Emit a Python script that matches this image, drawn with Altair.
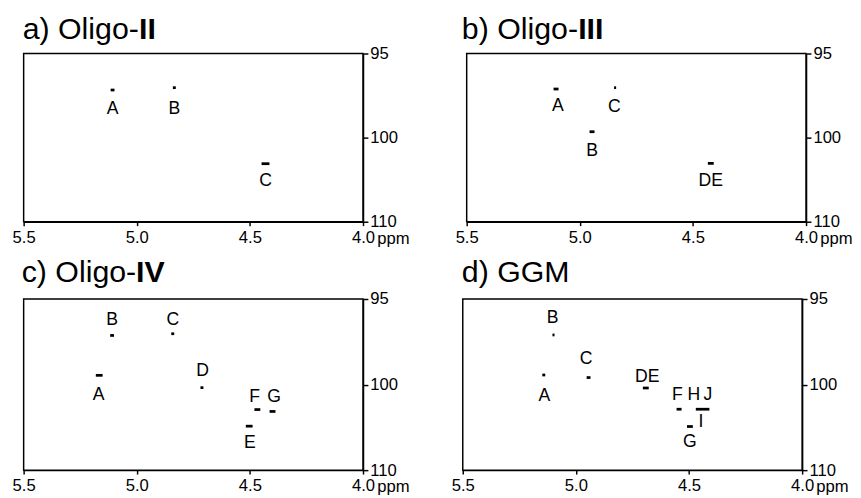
import altair as alt
import pandas as pd

# ---------------- data ----------------
# panel titles (normal part, bold part)
panel_keys = ["a", "b", "c", "d"]
title_plain = ["a) Oligo-", "b) Oligo-", "c) Oligo-", "d) GGM"]
title_bold = ["II", "III", "IV", ""]

# x ticks (ppm) and y ticks (13C ppm, as printed)
x_ticks = [5.5, 5.0, 4.5, 4.0]
y_ticks = [95, 100, 105]
y_tick_labels = ["95", "100", "110"]

# cross peaks: panel, 1H ppm, 13C position, peak extent along 1H (ppm)
peak_panel = ["a", "a", "a",
              "b", "b", "b", "b",
              "c", "c", "c", "c", "c", "c", "c",
              "d", "d", "d", "d", "d", "d", "d"]
peak_h = [5.107, 4.834, 4.431,
          5.105, 4.844, 4.946, 4.421,
          5.109, 4.841, 5.166, 4.712, 4.467, 4.400, 4.503,
          5.099, 5.142, 4.944, 4.691, 4.544, 4.440, 4.496]
peak_c = [97.17, 97.03, 101.55,
          97.11, 97.03, 99.65, 101.53,
          97.13, 97.03, 99.46, 100.18, 101.46, 101.57, 102.43,
          97.10, 99.44, 99.59, 100.20, 101.44, 101.44, 102.45]
peak_w = [0.017, 0.013, 0.035,
          0.022, 0.009, 0.022, 0.026,
          0.017, 0.013, 0.030, 0.013, 0.026, 0.026, 0.030,
          0.009, 0.013, 0.017, 0.026, 0.022, 0.060, 0.026]

# peak labels: panel, text, 1H ppm, 13C position
label_panel = ["a", "a", "a",
               "b", "b", "b", "b",
               "c", "c", "c", "c", "c", "c", "c",
               "d", "d", "d", "d", "d", "d", "d", "d", "d"]
label_text = ["A", "B", "C",
              "A", "C", "B", "DE",
              "B", "C", "A", "D", "F", "G", "E",
              "B", "A", "C", "DE", "F", "H", "J", "I", "G"]
label_h = [5.107, 4.834, 4.431,
           5.097, 4.847, 4.946, 4.421,
           5.109, 4.841, 5.169, 4.709, 4.479, 4.393, 4.500,
           5.103, 5.139, 4.955, 4.685, 4.551, 4.479, 4.417, 4.447, 4.496]
label_c = [98.30, 98.30, 102.56,
           98.10, 98.20, 100.80, 102.56,
           96.22, 96.22, 100.60, 99.19, 100.71, 100.71, 103.42,
           96.11, 100.70, 98.54, 99.59, 100.64, 100.64, 100.64, 102.17, 103.37]

peaks = pd.DataFrame({"panel": peak_panel, "h": peak_h, "c": peak_c, "w": peak_w})
labels = pd.DataFrame({"panel": label_panel, "txt": label_text, "h": label_h, "c": label_c})

FONT = "Liberation Sans"
W = 347
H_ROW = [172, 175]
TITLE_DX = [-1, -5, -2, -1]
TITLE_DY = [-15, -15, -17, -17]
TITLE_FS = 31
BOLD_DX = [119, 119, 117, 0]

ylab_expr = " : ".join(
    [f"datum.value == {v} ? '{t}'" for v, t in zip(y_ticks, y_tick_labels)]
) + " : datum.label"


def panel(i, height):
    key = panel_keys[i]
    xs = alt.Scale(domain=[5.5, 4.0], nice=False, zero=False)
    ys = alt.Scale(domain=[95, 105], reverse=True, nice=False, zero=False)
    xaxis = alt.Axis(values=x_ticks, format=".1f", tickSize=4, labelPadding=4,
                     grid=False, title="ppm", titleX=W + 14, titleY=22,
                     titleAlign="left", titleBaseline="alphabetic",
                     titleFontWeight="normal", titleFontSize=17, titleFont=FONT,
                     labelFlush=False)
    yaxis = alt.Axis(orient="right", values=y_ticks, labelExpr=ylab_expr,
                     tickSize=5, labelPadding=2, grid=False, title=None,
                     labelBaseline="middle", labelFlush=False)

    pk = alt.Chart(peaks[peaks.panel == key]).transform_calculate(
        xa="datum.h + datum.w/2", xb="datum.h - datum.w/2"
    ).mark_rule(color="black", strokeWidth=2.8).encode(
        x=alt.X("xa:Q", scale=xs, axis=xaxis),
        x2="xb:Q",
        y=alt.Y("c:Q", scale=ys, axis=yaxis),
    )
    lb = alt.Chart(labels[labels.panel == key]).transform_calculate(
        xa="datum.h"
    ).mark_text(
        font=FONT, fontSize=18, color="black", baseline="middle", align="center"
    ).encode(
        x=alt.X("xa:Q", scale=xs, axis=xaxis),
        y=alt.Y("c:Q", scale=ys, axis=yaxis),
        text="txt:N",
    )
    t1 = alt.Chart(pd.DataFrame({"t": [title_plain[i]]})).mark_text(
        font=FONT, fontSize=TITLE_FS, color="black", align="left", baseline="alphabetic"
    ).encode(text="t:N", x=alt.value(TITLE_DX[i]), y=alt.value(TITLE_DY[i]))
    layers = [pk, lb, t1]
    if title_bold[i]:
        t2 = alt.Chart(pd.DataFrame({"t": [title_bold[i]]})).mark_text(
            font=FONT, fontSize=TITLE_FS, fontWeight="bold", color="black",
            align="left", baseline="alphabetic"
        ).encode(text="t:N", x=alt.value(TITLE_DX[i] + BOLD_DX[i]), y=alt.value(TITLE_DY[i]))
        layers.append(t2)
    return alt.layer(*layers).properties(width=W, height=height)


row1 = alt.hconcat(panel(0, H_ROW[0]), panel(1, H_ROW[0]), spacing=45)
row2 = alt.hconcat(panel(2, H_ROW[1]), panel(3, H_ROW[1]), spacing=41)

chart = alt.vconcat(row1, row2, spacing=10).properties(
    padding={"left": 3, "top": 0, "right": 0, "bottom": 0},
    background="white",
).configure_view(
    stroke="black", strokeWidth=1.5
).configure_axis(
    domainColor="black", domainWidth=1.5, tickColor="black", tickWidth=1.5,
    labelColor="black", labelFont=FONT, labelFontSize=17,
)

chart.save("out.html", embed_options={"renderer": "svg", "actions": False})
